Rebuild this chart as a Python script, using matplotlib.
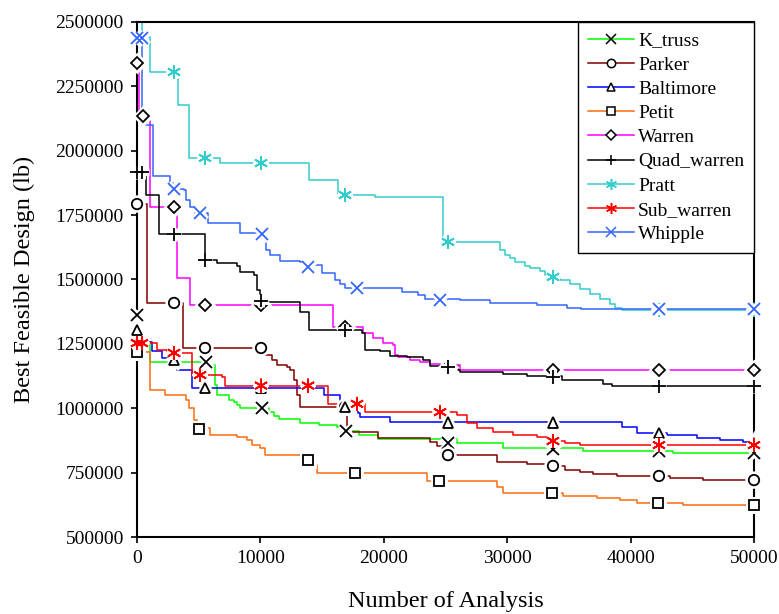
import numpy as np
import matplotlib
matplotlib.use("Agg")
import matplotlib.pyplot as plt
import matplotlib.patheffects as pe
from matplotlib.lines import Line2D
from matplotlib.ticker import StrMethodFormatter

plt.rcParams['font.family'] = ['Liberation Serif', 'DejaVu Serif']

# step data (x = number of analysis, y = best feasible design in lb)
pratt_x = [0, 400, 1050, 3320, 4210, 6730, 13940, 16290, 19290, 24800, 29420, 29820, 30230,
           30630, 31440, 31850, 32660, 33060, 33500, 34280, 35090, 35900, 36710, 37520, 38330,
           38740, 39300, 50000]
pratt_y = [2527000, 2442000, 2306000, 2178000, 1972000, 1952000, 1886000, 1828000, 1820000,
           1646000, 1615000, 1595000, 1583000, 1568000, 1552000, 1545000, 1533000, 1517000,
           1510000, 1498000, 1483000, 1463000, 1444000, 1424000, 1405000, 1389000, 1382000, 1382000]
pratt_mx = [3000, 5510, 10050, 16860, 25200, 33710, 42300, 50000]
pratt_my = [2306000, 1972000, 1952000, 1828000, 1646000, 1510000, 1382000, 1382000]

whip_x = [0, 400, 1300, 2670, 2920, 3810, 4000, 4300, 4700, 5750, 8350, 10450, 10780, 11590,
          13210, 13700, 15000, 16050, 16450, 16860, 21480, 22770, 23340, 26180, 28610, 32420,
          34850, 36000, 50000]
whip_y = [2438000, 2100000, 1902000, 1875000, 1851000, 1848000, 1810000, 1782000, 1758000,
          1719000, 1681000, 1615000, 1595000, 1572000, 1568000, 1556000, 1525000, 1498000,
          1483000, 1467000, 1451000, 1440000, 1424000, 1420000, 1409000, 1401000, 1389000,
          1385000, 1385000]
whip_mx = [0, 400, 3000, 5110, 10130, 13860, 17830, 24560, 42300, 50000]
whip_my = [2438000, 2438000, 1851000, 1758000, 1677000, 1549000, 1467000, 1420000, 1385000, 1385000]

warren_x = [0, 200, 1050, 3240, 4300, 15880, 18310, 19130, 19940, 20750, 20910, 21150, 22120,
            22930, 23740, 24560, 26180, 50000]
warren_y = [2341000, 2135000, 1782000, 1506000, 1401000, 1316000, 1292000, 1273000, 1253000,
            1246000, 1207000, 1199000, 1187000, 1180000, 1172000, 1168000, 1149000, 1149000]
warren_mx = [0, 490, 3000, 5510, 10050, 16860, 25200, 33710, 42300, 50000]
warren_my = [2341000, 2135000, 1782000, 1401000, 1401000, 1316000, 1160000, 1149000, 1149000, 1149000]

quad_x = [0, 730, 1780, 5510, 6480, 8100, 8350, 9480, 9720, 9970, 10290, 13210, 13940, 18230,
          18480, 19690, 20500, 21880, 23180, 23740, 26010, 26180, 29660, 31610, 34440, 37770,
          38500, 50000]
quad_y = [1917000, 1828000, 1675000, 1576000, 1564000, 1552000, 1529000, 1517000, 1459000,
          1420000, 1413000, 1374000, 1302000, 1292000, 1226000, 1222000, 1203000, 1199000,
          1187000, 1164000, 1149000, 1141000, 1133000, 1125000, 1110000, 1094000, 1086000, 1086000]
quad_mx = [0, 400, 3000, 5510, 10050, 16860, 25200, 33710, 42300, 50000]
quad_my = [1917000, 1917000, 1675000, 1576000, 1417000, 1302000, 1160000, 1121000, 1086000, 1086000]

parker_x = [0, 810, 3730, 10370, 10940, 11350, 12160, 12400, 12720, 12970, 13210, 17020, 19530,
            23740, 24310, 24800, 29170, 31610, 33300, 34690, 35900, 36950, 38900, 43190, 45870, 50000]
parker_y = [1793000, 1409000, 1234000, 1207000, 1187000, 1168000, 1160000, 1149000, 1110000,
            1051000, 1005000, 908000, 884000, 869000, 853000, 818000, 791000, 783000, 776000,
            760000, 752000, 745000, 737000, 729000, 721000, 721000]
parker_mx = [0, 3000, 5510, 10050, 16860, 25200, 33710, 42300, 50000]
parker_my = [1793000, 1409000, 1234000, 1234000, 1005000, 818000, 776000, 737000, 721000]

balt_x = [0, 240, 1220, 2030, 2670, 3240, 4460, 15150, 16450, 17910, 18070, 20500, 39300, 40520,
          42950, 45380, 47250, 49110, 50000]
balt_y = [1304000, 1257000, 1222000, 1195000, 1187000, 1149000, 1079000, 1051000, 1005000,
          982000, 966000, 945000, 927000, 904000, 896000, 884000, 877000, 869000, 865000]
balt_mx = [0, 3000, 5510, 10050, 16860, 25200, 33710, 42300, 50000]
balt_my = [1304000, 1187000, 1079000, 1079000, 1005000, 945000, 945000, 904000, 865000]

ktruss_x = [0, 160, 1050, 5920, 6320, 6480, 7460, 7860, 8100, 8350, 10700, 11100, 11510, 13210,
            14750, 16210, 16860, 18000, 19500, 25930, 29660, 36140, 43440, 50000]
ktruss_y = [1362000, 1257000, 1180000, 1168000, 1090000, 1051000, 1032000, 1024000, 1013000,
            1001000, 985000, 970000, 958000, 943000, 935000, 927000, 912000, 896000, 881000,
            865000, 846000, 834000, 826000, 826000]
ktruss_mx = [0, 3000, 5590, 10100, 16940, 25200, 33710, 42300, 50000]
ktruss_my = [1362000, 1180000, 1180000, 1001000, 912000, 865000, 840000, 834000, 826000]

sub_x = [0, 1620, 2430, 4460, 6890, 7130, 15480, 18480, 25930, 26740, 27550, 28850, 30470,
         32420, 33300, 34690, 35900, 50000]
sub_y = [1253000, 1226000, 1215000, 1129000, 1121000, 1088000, 1017000, 985000, 974000, 943000,
         923000, 908000, 896000, 888000, 873000, 865000, 857000, 857000]
sub_mx = [0, 400, 3000, 5110, 10050, 13860, 17830, 24560, 33710, 42300, 50000]
sub_my = [1253000, 1253000, 1215000, 1129000, 1088000, 1088000, 1017000, 985000, 873000, 857000, 857000]

petit_x = [0, 1050, 2270, 3970, 4210, 4620, 4860, 5920, 8100, 8910, 9320, 9970, 10370, 13370,
           14180, 14590, 23500, 29170, 29660, 34520, 37280, 39140, 40520, 44250, 50000]
petit_y = [1218000, 1071000, 1051000, 1032000, 1001000, 954000, 923000, 896000, 888000, 877000,
           857000, 846000, 818000, 799000, 780000, 749000, 717000, 694000, 671000, 659000,
           651000, 644000, 632000, 624000, 624000]
petit_mx = [0, 5020, 13860, 17670, 24470, 33630, 42220, 50000]
petit_my = [1218000, 919000, 799000, 749000, 717000, 671000, 632000, 624000]

star = (6, 2, 0)
series = [
    # label, x, y, mx, my, line colour, marker, marker colour, filled
    ("K_truss", ktruss_x, ktruss_y, ktruss_mx, ktruss_my, "#00ff00", "x", "black", False),
    ("Parker", parker_x, parker_y, parker_mx, parker_my, "#800000", "o", "black", True),
    ("Baltimore", balt_x, balt_y, balt_mx, balt_my, "#0000ff", "^", "black", True),
    ("Petit", petit_x, petit_y, petit_mx, petit_my, "#ff6a10", "s", "black", True),
    ("Warren", warren_x, warren_y, warren_mx, warren_my, "#ff00ff", "D", "black", True),
    ("Quad_warren", quad_x, quad_y, quad_mx, quad_my, "black", "+", "black", False),
    ("Pratt", pratt_x, pratt_y, pratt_mx, pratt_my, "#33cccc", star, "#33cccc", False),
    ("Sub_warren", sub_x, sub_y, sub_mx, sub_my, "#ff0000", star, "#ff0000", False),
    ("Whipple", whip_x, whip_y, whip_mx, whip_my, "#3366ff", "x", "#3366ff", False),
]
msizes = {"x": 8.5, "o": 7.5, "^": 7.5, "s": 7.5, "D": 6.2, "+": 9.5, star: 10}

fig = plt.figure(figsize=(7.79, 6.14), dpi=100)
ax = fig.add_axes([0.1759, 0.1254, 0.7920, 0.8388])

white = [pe.Stroke(linewidth=5, foreground="white"), pe.Normal()]
handles = []
for lab, x, y, mx, my, col, mk, mcol, filled in series:
    ax.plot(x, y, drawstyle="steps-post", color=col, lw=1.1)
    ms = msizes[mk]
    ax.plot(mx, my, ls="none", marker=mk, ms=ms, mec=mcol, mew=1.3,
            mfc="white" if filled else mcol, path_effects=white, clip_on=False, zorder=3)
    handles.append(Line2D([], [], color=col, lw=1.1, marker=mk, ms=ms * 0.8, mec=mcol, mew=1.1,
                          mfc="white" if filled else mcol))

ax.set_xlim(0, 50000)
ax.set_ylim(500000, 2500000)
ax.set_xticks(np.arange(0, 50001, 10000))
ax.set_yticks(np.arange(500000, 2500001, 250000))
ax.yaxis.set_major_formatter(StrMethodFormatter("{x:.0f}"))
ax.tick_params(direction="out", length=4.5, width=1.2, labelsize=14, pad=5)
for s in ax.spines.values():
    s.set_linewidth(1.5)

ax.set_xlabel("Number of Analysis", fontsize=17.5)
ax.xaxis.set_label_coords(0.5, -0.104)
ax.set_ylabel("Best Feasible Design (lb)", fontsize=17.5)
ax.yaxis.set_label_coords(-0.165, 0.5)

leg = ax.legend(handles, [s[0] for s in series], loc="upper right", bbox_to_anchor=(1.0, 1.0),
                borderaxespad=0, fontsize=14, handlelength=2.4, handletextpad=0.2,
                labelspacing=0.34, fancybox=False, framealpha=1, edgecolor="black",
                borderpad=0.5)
leg.get_frame().set_linewidth(1.0)

fig.savefig("out.png", dpi=100)
